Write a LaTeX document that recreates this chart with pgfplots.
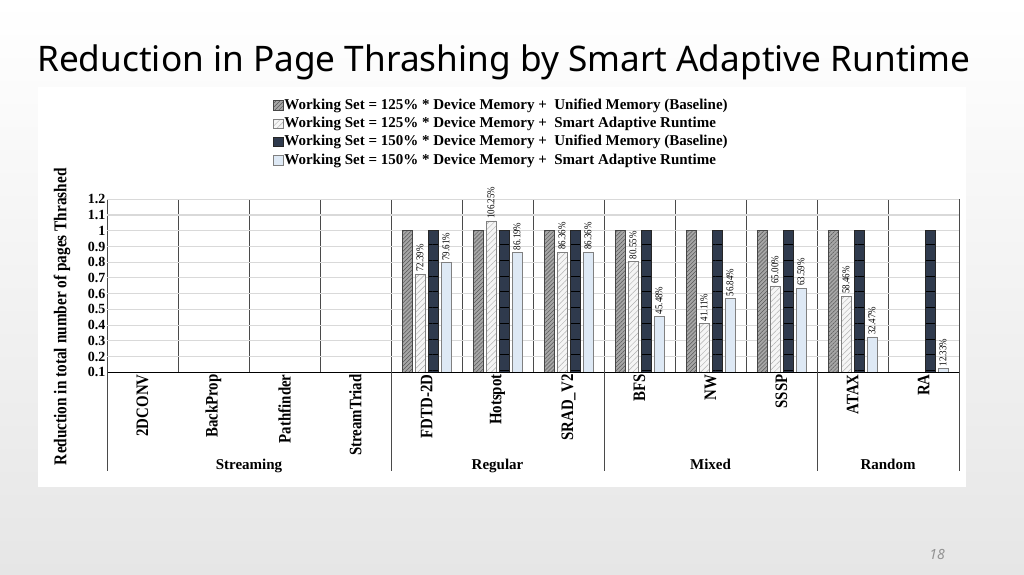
\documentclass[border=0pt]{standalone}
\usepackage{pgfplots}
\pgfplotsset{compat=1.18}
\usetikzlibrary{patterns.meta}
\usepackage{fontspec}
\setmainfont{Noto Sans}
\newfontfamily\hfont{Liberation Serif}
\newfontfamily\vfont[FakeStretch=0.85]{Liberation Serif}
\definecolor{bgbot}{HTML}{E6E6E6}
\definecolor{sone}{HTML}{A6A6A6}
\definecolor{soneh}{HTML}{575757}
\definecolor{stwo}{HTML}{F5F5F5}
\definecolor{stwoh}{HTML}{B0B0B0}
\definecolor{sthree}{HTML}{2F3A4D}
\definecolor{sfour}{HTML}{DEE9F5}
\definecolor{gridc}{HTML}{D9D9D9}
\definecolor{sepc}{HTML}{4A4A4A}
\begin{document}
\begin{tikzpicture}
% slide background and chart panel
\shade[top color=white, bottom color=bgbot] (0bp,0bp) rectangle (1024bp,-575bp);
\fill[white] (38bp,-87bp) rectangle (966bp,-487bp);
\node[anchor=base west, inner sep=0pt, font=\fontsize{35.2bp}{40bp}\selectfont] at (37bp,-71bp)
  {Reduction in Page Thrashing by Smart Adaptive Runtime};
\node[font=\itshape\fontsize{14bp}{16bp}\selectfont, text=gray!85] at (937bp,-554bp) {18};

\begin{axis}[
  name=ax,
  at={(107bp,-372.3bp)}, anchor=south west,
  scale only axis, width=852bp, height=173bp,
  ybar, bar width=10bp,
  xmin=-0.5, xmax=11.5, ymin=0.1, ymax=1.2,
  xtick={0,...,11},
  xticklabels={2DCONV,BackProp,Pathfinder,StreamTriad,FDTD-2D,Hotspot,SRAD\_V2,BFS,NW,SSSP,ATAX,RA},
  minor xtick={-0.5,0.5,...,11.5},
  ytick={0.1,0.2,...,1.21},
  major tick length=0pt, minor tick length=0pt,
  ymajorgrids, xminorgrids,
  major grid style={draw=gridc, line width=1.1bp},
  minor grid style={draw=sepc, line width=1bp},
  axis line style={draw=none},
  /pgf/number format/assume math mode=true,
  yticklabel style={font=\hfont\bfseries\fontsize{14bp}{15bp}\selectfont, inner sep=1.5bp},
  xticklabel style={font=\vfont\bfseries\fontsize{17.5bp}{19bp}\selectfont, rotate=90, anchor=east, inner sep=2bp},
  point meta=explicit symbolic,
  nodes near coords={\pgfplotspointmeta},
  every node near coord/.append style={rotate=90, anchor=west, inner sep=2bp,
    font=\vfont\fontsize{10.5bp}{12bp}\selectfont},
  legend image code/.code={\draw[#1] (0bp,-4.7bp) rectangle (9.5bp,4.7bp);},
  legend style={at={(0.1913,1.603)}, anchor=north west, draw=none, fill=none,
    font=\hfont\bfseries\fontsize{15bp}{17bp}\selectfont, row sep=1.8bp,
    nodes={inner sep=1bp, text height=11bp, text depth=3.5bp},
    cells={anchor=west}},
  legend cell align=left,
]
\addplot[fill=sone, draw=soneh!80!black, line width=0.6bp,
  postaction={pattern={Lines[angle=45, distance=2.8bp, line width=0.5bp]}, pattern color=soneh},
  bar shift=-19.5bp, nodes near coords={}]
  coordinates {(4,1)[] (5,1)[] (6,1)[] (7,1)[] (8,1)[] (9,1)[] (10,1)[]};
\addlegendentry{Working Set = 125\% * Device Memory + ~Unified Memory (Baseline)}
\addplot[fill=stwo, draw=gray, line width=0.6bp,
  postaction={pattern={Lines[angle=45, distance=4bp, line width=0.45bp]}, pattern color=stwoh},
  bar shift=-6.5bp]
  coordinates {(4,0.7239)[72.39\%] (5,1.0625)[106.25\%] (6,0.8636)[86.36\%] (7,0.8055)[80.55\%]
    (8,0.4111)[41.11\%] (9,0.65)[65.00\%] (10,0.5846)[58.46\%]};
\addlegendentry{Working Set = 125\% * Device Memory + ~Smart Adaptive Runtime}
\addplot[fill=sthree, draw=black!85, line width=0.6bp,
  postaction={pattern={Lines[angle=0, distance=15.73bp, line width=0.9bp]}, pattern color=black},
  bar shift=6.5bp, nodes near coords={}]
  coordinates {(4,1)[] (5,1)[] (6,1)[] (7,1)[] (8,1)[] (9,1)[] (10,1)[] (11,1)[]};
\addlegendentry{Working Set = 150\% * Device Memory + ~Unified Memory (Baseline)}
\addplot[fill=sfour, draw=gray, line width=0.7bp, bar shift=19.5bp]
  coordinates {(4,0.7961)[79.61\%] (5,0.8619)[86.19\%] (6,0.8636)[86.36\%] (7,0.4548)[45.48\%]
    (8,0.5684)[56.84\%] (9,0.6359)[63.59\%] (10,0.3247)[32.47\%] (11,0.1233)[12.33\%]};
\addlegendentry{Working Set = 150\% * Device Memory + ~Smart Adaptive Runtime}
\end{axis}

% baseline, group separators and group names
\draw[black, line width=1.3bp] (ax.south west) -- (ax.south east);
\foreach \gx in {107,391,604,817,959}
  \draw[sepc, line width=1bp] (\gx bp,-372.3bp) -- (\gx bp,-471bp);
\begin{scope}[every node/.style={anchor=base, inner sep=0pt, font=\hfont\bfseries\fontsize{15bp}{17bp}\selectfont}]
\node at (249bp,-469bp) {Streaming};
\node at (497.5bp,-469bp) {Regular};
\node at (710.5bp,-469bp) {Mixed};
\node at (888bp,-469bp) {Random};
\end{scope}
\node[rotate=90, font=\vfont\bfseries\fontsize{18bp}{20bp}\selectfont] at (62bp,-316.7bp)
  {Reduction in total number of pages Thrashed};
\pgfresetboundingbox
\useasboundingbox (0bp,0bp) rectangle (1024bp,-575bp);
\end{tikzpicture}
\end{document}
